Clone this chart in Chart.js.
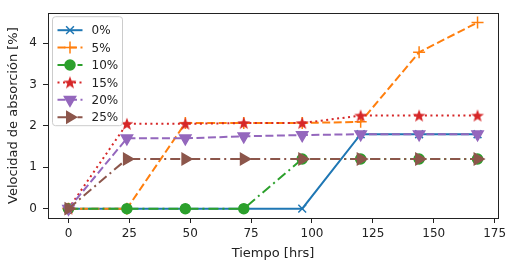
<!DOCTYPE html>
<html>
<head>
<meta charset="utf-8">
<script src="https://cdn.jsdelivr.net/npm/chart.js@4/dist/chart.umd.min.js"></script>
<style>
  html, body { margin: 0; padding: 0; background: #fff; }
  #wrap { width: 514px; height: 265px; }
</style>
</head>
<body>
<div id="wrap"><canvas id="absorcion" width="514" height="265"></canvas></div>
<script>
const horas = [0, 24, 48, 72, 96, 120, 144, 168];
const serie0 = [0, 0, 0, 0, 0, 1.8, 1.8, 1.8];
const serie5 = [0, 0, 2.07, 2.07, 2.07, 2.1, 3.78, 4.5];
const serie10 = [0, 0, 0, 0, 1.2, 1.2, 1.2, 1.2];
const serie15 = [0, 2.05, 2.05, 2.07, 2.07, 2.25, 2.25, 2.25];
const serie20 = [0, 1.7, 1.7, 1.75, 1.78, 1.8, 1.8, 1.8];
const serie25 = [0, 1.2, 1.2, 1.2, 1.2, 1.2, 1.2, 1.2];
const etiquetas = ["0%", "5%", "10%", "15%", "20%", "25%"];
const xTicks = [0, 25, 50, 75, 100, 125, 150, 175];
const yTicks = [0, 1, 2, 3, 4];

// filled star marker (matplotlib "*")
function makeStar(color) {
  const c = document.createElement("canvas");
  c.width = 16; c.height = 16;
  const g = c.getContext("2d");
  g.fillStyle = color;
  g.beginPath();
  for (let i = 0; i < 10; i++) {
    const r = i % 2 === 0 ? 6.8 : 2.8;
    const a = -Math.PI / 2 + i * Math.PI / 5;
    const px = 8 + r * Math.cos(a), py = 8.5 + r * Math.sin(a);
    i === 0 ? g.moveTo(px, py) : g.lineTo(px, py);
  }
  g.closePath();
  g.fill();
  return c;
}

const toXY = arr => arr.map((v, i) => ({ x: horas[i], y: v }));

const estilos = [
  { data: serie0, color: "#1f77b4", dash: [], point: "crossRot", radius: 5.5, rot: 0 },
  { data: serie5, color: "#ff7f0e", dash: [8, 3.5], point: "cross", radius: 6, rot: 0 },
  { data: serie10, color: "#2ca02c", dash: [10, 4, 2, 4], point: "circle", radius: 5, rot: 0 },
  { data: serie15, color: "#d62728", dash: [2, 3.5], point: makeStar("#d62728"), radius: 7, rot: 0 },
  { data: serie20, color: "#9467bd", dash: [8, 3.5], point: "triangle", radius: 6.5, rot: 180 },
  { data: serie25, color: "#8c564b", dash: [10, 4, 2, 4], point: "triangle", radius: 6.5, rot: 90 },
];

const datasets = estilos.map((s, i) => ({
  label: etiquetas[i],
  data: toXY(s.data),
  borderColor: s.color,
  backgroundColor: s.color,
  borderWidth: 2,
  borderDash: s.dash,
  pointStyle: s.point,
  pointRadius: s.radius,
  pointRotation: s.rot,
  pointBorderWidth: 1.5,
  pointBackgroundColor: s.color,
  pointBorderColor: s.color,
  tension: 0,
  order: 5 - i,
}));

const marco = {
  id: "marco",
  afterDatasetsDraw(chart) {
    const { ctx, chartArea: a } = chart;
    ctx.save();
    ctx.strokeStyle = "#222";
    ctx.lineWidth = 1;
    ctx.strokeRect(Math.round(a.left) + 0.5, Math.round(a.top) + 0.5,
      Math.round(a.right - a.left), Math.round(a.bottom - a.top));

    // legend box in the upper left
    const bx = a.left + 4.5, by = a.top + 3.5, bw = 70, bh = 109;
    ctx.fillStyle = "rgba(255,255,255,0.85)";
    ctx.strokeStyle = "#cccccc";
    ctx.beginPath();
    ctx.roundRect(bx, by, bw, bh, 3);
    ctx.fill();
    ctx.stroke();
    ctx.font = "12px 'DejaVu Sans'";
    ctx.textBaseline = "middle";
    chart.data.datasets.forEach((d, i) => {
      const y = by + 13.5 + i * 17.4;
      ctx.strokeStyle = d.borderColor;
      ctx.lineWidth = 2;
      ctx.setLineDash(d.borderDash);
      ctx.beginPath();
      ctx.moveTo(bx + 5, y);
      ctx.lineTo(bx + 30, y);
      ctx.stroke();
      ctx.setLineDash([]);
      ctx.fillStyle = d.pointBackgroundColor;
      ctx.strokeStyle = d.pointBorderColor;
      ctx.lineWidth = 1.5;
      Chart.helpers.drawPoint(ctx, {
        pointStyle: d.pointStyle, rotation: d.pointRotation,
        radius: d.pointRadius, borderWidth: 1.5
      }, bx + 17.5, y);
      ctx.fillStyle = "#222";
      ctx.fillText(d.label, bx + 39, y + 1);
    });
    ctx.restore();
  }
};

new Chart(document.getElementById("absorcion").getContext("2d"), {
  type: "line",
  data: { datasets },
  plugins: [marco],
  options: {
    responsive: false,
    animation: false,
    layout: { padding: { top: 5, right: 16, left: 6, bottom: 4 } },
    plugins: { legend: { display: false }, tooltip: { enabled: false } },
    scales: {
      x: {
        type: "linear",
        min: -8.4,
        max: 176.4,
        afterBuildTicks: s => { s.ticks = xTicks.map(v => ({ value: v })); },
        afterFit: s => { s.height = 43; },
        grid: { drawOnChartArea: false, drawTicks: true, tickLength: 5, color: "#222" },
        border: { display: false },
        ticks: { color: "#222", font: { family: "DejaVu Sans", size: 12 }, padding: 4, maxRotation: 0 },
        title: { display: true, text: "Tiempo [hrs]", color: "#222",
          font: { family: "DejaVu Sans", size: 13 }, padding: { top: 2, bottom: 0 } }
      },
      y: {
        min: -0.225,
        max: 4.725,
        afterBuildTicks: s => { s.ticks = yTicks.map(v => ({ value: v })); },
        afterFit: s => { s.width = 42; },
        grid: { drawOnChartArea: false, drawTicks: true, tickLength: 5, color: "#222" },
        border: { display: false },
        ticks: { color: "#222", font: { family: "DejaVu Sans", size: 12 }, padding: 6 },
        title: { display: true, text: "Velocidad de absorción [%]", color: "#222",
          font: { family: "DejaVu Sans", size: 13 }, padding: { top: 0, bottom: 2 } }
      }
    }
  }
});
</script>
</body>
</html>
